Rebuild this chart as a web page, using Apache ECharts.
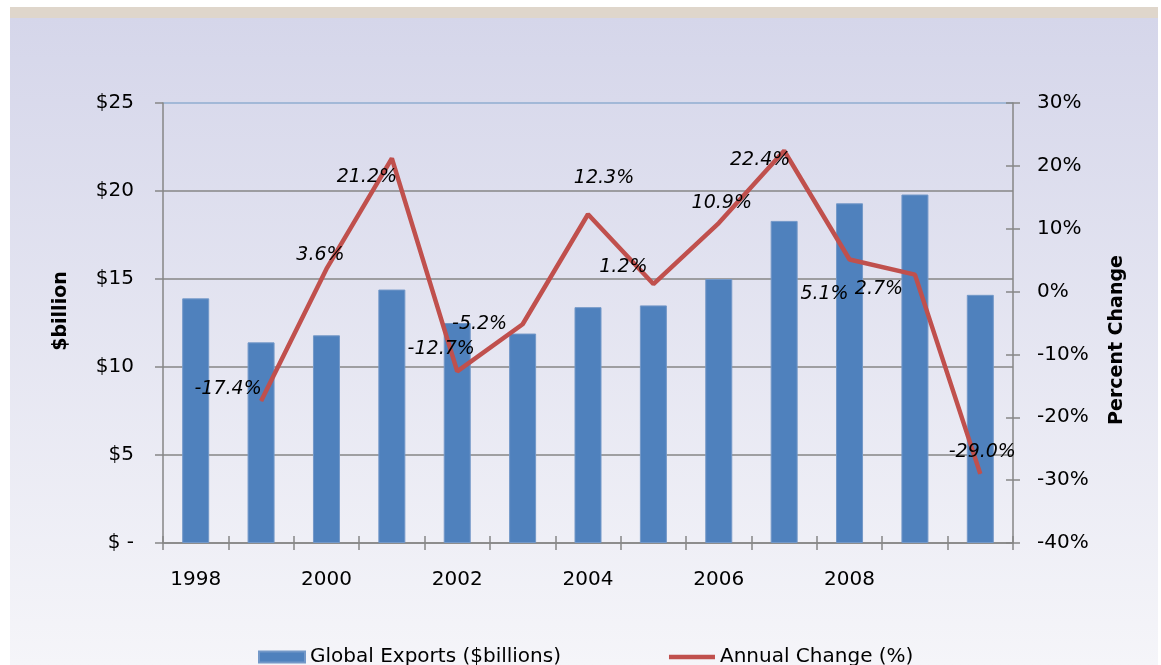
<!DOCTYPE html>
<html>
<head>
<meta charset="utf-8">
<script src="https://cdn.jsdelivr.net/npm/echarts@6/dist/echarts.min.js"></script>
<style>
html,body{margin:0;padding:0;background:#ffffff;}
#chart{width:1161px;height:665px;}
</style>
</head>
<body>
<div id="chart"></div>
<script>
// ---- data ----
const years = ['1998','1999','2000','2001','2002','2003','2004','2005','2006','2007','2008','2009','2010'];
const exportsBillions = [13.9, 11.4, 11.8, 14.4, 12.5, 11.9, 13.4, 13.5, 15.0, 18.3, 19.3, 19.8, 14.1];
const annualChange = [null, -17.4, 3.6, 21.2, -12.7, -5.2, 12.3, 1.2, 10.9, 22.4, 5.1, 2.7, -29.0];
const leftTicks = { min: 0, max: 25, interval: 5 };
const rightTicks = { min: -40, max: 30, interval: 10 };

// ---- label placement (style) ----
const labelOffsets = [null, [-33,-12], [-6,-14], [-25,19], [-16,-22], [-43,0], [16,-36], [-30,-17], [3,-20], [-24,9], [-25,35], [-36,14], [2,-22]];

const FONT = '"DejaVu Sans", Verdana, sans-serif';
const AXIS_COLOR = '#868686';

const chart = echarts.init(document.getElementById('chart'), null, { renderer: 'canvas' });

const option = {
  backgroundColor: '#ffffff',
  animation: false,
  graphic: [
    { type: 'rect', z: -100, silent: true, shape: { x: 10, y: 18, width: 1148, height: 647 },
      style: { fill: new echarts.graphic.LinearGradient(0, 0, 0, 1, [
        { offset: 0, color: '#d5d6ea' }, { offset: 1, color: '#f5f5f9' }]) } },
    { type: 'rect', z: -100, silent: true, shape: { x: 10, y: 7, width: 1148, height: 11 },
      style: { fill: '#dfd6cb' } }
  ],
  grid: { left: 163, right: 148, top: 103, bottom: 122, containLabel: false },
  legend: {
    left: 253, top: 642,
    itemWidth: 46, itemHeight: 11, itemGap: 108,
    textStyle: { fontFamily: FONT, fontSize: 20, color: '#000' },
    data: [
      { name: 'Global Exports ($billions)', icon: 'rect' },
      { name: 'Annual Change (%)', icon: 'path://M0,0 L49,0 L49,5 L0,5 Z' }
    ]
  },
  xAxis: [
    {
      type: 'category', data: years, boundaryGap: true, position: 'bottom',
      axisLine: { onZero: false, lineStyle: { color: AXIS_COLOR, width: 1.5 } },
      axisTick: { show: true, interval: 0, length: 7, lineStyle: { color: AXIS_COLOR, width: 1.5 } },
      axisLabel: { interval: function (i) { return i % 2 === 0 && i < 12; }, margin: 27,
        fontFamily: FONT, fontSize: 20, color: '#000' },
      splitLine: { show: false }
    },
    {
      type: 'category', data: years, boundaryGap: true, position: 'bottom',
      axisLine: { show: false, onZero: false },
      axisTick: { show: true, inside: true, interval: 0, length: 7, lineStyle: { color: AXIS_COLOR, width: 1.5 } },
      axisLabel: { show: false },
      splitLine: { show: false }
    }
  ],
  yAxis: [
    {
      type: 'value', position: 'left', min: leftTicks.min, max: leftTicks.max, interval: leftTicks.interval,
      name: '$billion', nameLocation: 'middle', nameRotate: 90, nameGap: 92,
      nameTextStyle: { fontFamily: FONT, fontSize: 19, fontWeight: 'bold', color: '#000', padding: [0, 0, 0, 24] },
      axisLine: { show: true, onZero: false, lineStyle: { color: AXIS_COLOR, width: 1.5 } },
      axisTick: { show: true, length: 8, lineStyle: { color: AXIS_COLOR, width: 1.5 } },
      axisLabel: { margin: 29, fontFamily: FONT, fontSize: 20, color: '#000',
        formatter: function (v) { return v === 0 ? '$ -' : '$' + v; } },
      splitLine: { show: true, lineStyle: { color: [AXIS_COLOR, AXIS_COLOR, AXIS_COLOR, AXIS_COLOR, AXIS_COLOR, '#8fadd0'], width: 1.5 } }
    },
    {
      type: 'value', position: 'right', min: rightTicks.min, max: rightTicks.max, interval: rightTicks.interval,
      name: 'Percent Change', nameLocation: 'middle', nameRotate: 90, nameGap: 95,
      nameTextStyle: { fontFamily: FONT, fontSize: 19, fontWeight: 'bold', color: '#000', padding: [0, 34, 0, 0] },
      axisLine: { show: true, onZero: false, lineStyle: { color: AXIS_COLOR, width: 1.5 } },
      axisTick: { show: true, length: 7, lineStyle: { color: AXIS_COLOR, width: 1.5 } },
      axisLabel: { margin: 24, fontFamily: FONT, fontSize: 20, color: '#000',
        formatter: function (v) { return v + '%'; } },
      splitLine: { show: false }
    },
    {
      type: 'value', position: 'right', min: rightTicks.min, max: rightTicks.max, interval: rightTicks.interval,
      axisLine: { show: false, onZero: false },
      axisTick: { show: true, inside: true, length: 7, lineStyle: { color: AXIS_COLOR, width: 1.5 } },
      axisLabel: { show: false },
      splitLine: { show: false }
    }
  ],
  series: [
    {
      name: 'Global Exports ($billions)', type: 'bar', xAxisIndex: 0, yAxisIndex: 0,
      data: exportsBillions, barWidth: 27,
      itemStyle: { color: '#4f81bd', borderColor: '#7398c8', borderWidth: 1 }
    },
    {
      name: 'Annual Change (%)', type: 'line', xAxisIndex: 0, yAxisIndex: 1,
      symbol: 'circle', symbolSize: 1, showSymbol: true,
      lineStyle: { color: '#c0504d', width: 4.5 },
      itemStyle: { color: '#c0504d' },
      connectNulls: false,
      data: annualChange.map(function (v, i) {
        if (v === null) return null;
        return { value: v, label: { offset: labelOffsets[i] } };
      }),
      label: {
        show: true, position: 'inside', color: '#000',
        fontFamily: FONT, fontSize: 19, fontStyle: 'italic',
        formatter: function (p) { return p.value.toFixed(1) + '%'; }
      },
      z: 5
    }
  ]
};
chart.setOption(option);
</script>
</body>
</html>
